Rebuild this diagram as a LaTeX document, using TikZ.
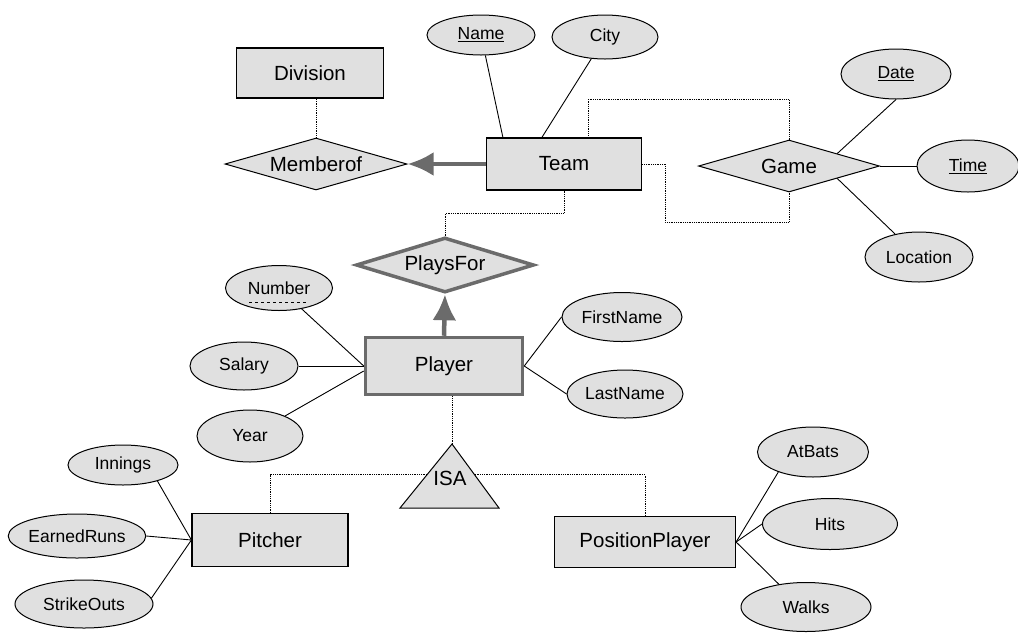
\documentclass[tikz,border=0pt]{standalone}
\usepackage{fontspec}
\setmainfont{Liberation Sans}
\usetikzlibrary{arrows.meta, shapes.geometric, calc}
\definecolor{erfill}{gray}{0.88}
\definecolor{weak}{gray}{0.42}

\begin{document}
\begin{tikzpicture}[x=1pt, y=-1pt,
    every node/.style={font=\fontsize{20.5}{24}\selectfont},
    entity/.style={draw, fill=erfill, rectangle, inner sep=0pt, line width=1.2pt},
    weakentity/.style={entity, draw=weak, line width=3.5pt},
    attr/.style={draw, fill=erfill, ellipse, inner sep=0pt, line width=1pt,
      font=\fontsize{17.5}{21}\selectfont},
    rel/.style={draw, fill=erfill, diamond, aspect=3.5, inner sep=0pt, line width=1pt},
    weakrel/.style={rel, draw=weak, line width=3.5pt},
    link/.style={densely dotted, line width=0.8pt},
    attrlink/.style={line width=0.9pt},
    heavy/.style={draw=weak, line width=4.5pt, -{Latex[length=26pt,width=24pt]}}]
      \useasboundingbox (0,0) rectangle (1018,633);

      % Draw the entities
      \node[entity, minimum width=147, minimum height=50] (division) at (310,73) {Division};
      \node[entity, minimum width=155, minimum height=52] (team) at (564,164) {Team};
      \node[weakentity, minimum width=157, minimum height=57] (player) at (444,366) {Player};
      \node[entity, minimum width=156, minimum height=53] (pitcher) at (270,540) {Pitcher};
      \node[entity, minimum width=181, minimum height=51] (positionplayer) at (645,542) {PositionPlayer};

      % Draw the relationships
      \node[rel, minimum width=182, minimum height=52] (memberof) at (316,164) {Memberof};
      \node[rel, minimum width=181, minimum height=52] (game) at (789,166) {Game};
      \node[weakrel, minimum width=178, minimum height=55] (playsfor) at (445,265) {PlaysFor};

      % Draw the attributes
      \node[attr, minimum width=108, minimum height=40] (name) at (481,35) {\underline{Name}};
      \node[attr, minimum width=106, minimum height=44] (city) at (605,37) {City};
      \node[attr, minimum width=110, minimum height=50] (date) at (896,74) {\underline{Date}};
      \node[attr, minimum width=102, minimum height=52] (time) at (968,166) {\underline{Time}};
      \node[attr, minimum width=108, minimum height=50] (location) at (919,257) {Location};
      \node[attr, minimum width=107, minimum height=45] (number) at (279,288) {Number};
      \node[attr, minimum width=108, minimum height=48] (salary) at (244,366) {Salary};
      \node[attr, minimum width=106, minimum height=52] (year) at (250,436) {Year};
      \node[attr, minimum width=120, minimum height=49] (firstname) at (622,317) {FirstName};
      \node[attr, minimum width=116, minimum height=48] (lastname) at (625,394) {LastName};
      \node[attr, minimum width=110, minimum height=40] (innings) at (123,465) {Innings};
      \node[attr, minimum width=137, minimum height=44] (earnedruns) at (77,536) {EarnedRuns};
      \node[attr, minimum width=138, minimum height=48] (strikeouts) at (84,604) {StrikeOuts};
      \node[attr, minimum width=111, minimum height=50] (atbats) at (813,452) {AtBats};
      \node[attr, minimum width=135, minimum height=51] (hits) at (830,524) {Hits};
      \node[attr, minimum width=130, minimum height=49] (walks) at (806,607) {Walks};

      % Dashed underline of the partial key
      \draw[dashed, line width=0.9pt] ([xshift=-30pt,yshift=-14pt]number.center) -- ([xshift=28pt,yshift=-14pt]number.center);

      % Draw the ISA triangle
      \coordinate (isatop) at (452,444);
      \coordinate (isaleft) at (400,508);
      \coordinate (isaright) at (499,508);
      \draw[fill=erfill, line width=1pt] (isatop) -- (isaleft) -- (isaright) -- cycle;
      \node (isa) at (450,478) {ISA};

      % Draw the relationship links
      \draw[link] (memberof.north) -- (memberof.north |- division.south);
      \draw[link] ([xshift=24pt]team.north) -- ++(0,-38) -| (game.north);
      \draw[link] (team.east) -- ++(23,0) -- ++(0,58) -| (game.south);
      \draw[link] (team.south) -- ++(0,23) -| (playsfor.north);
      \draw[heavy] (team.west) -- (memberof.east);
      \draw[heavy] (player.north) -- (playsfor.south);

      % Draw the ISA links
      \draw[link] (isatop) -- (isatop |- player.south);
      \draw[link] (pitcher.north) |- ($(isatop)!.48!(isaleft)$);
      \draw[link] (positionplayer.north) |- ($(isatop)!.48!(isaright)$);

      % Draw the attribute links
      \draw[attrlink] (name) -- ([xshift=17pt]team.north west);
      \draw[attrlink] (city) -- ([xshift=56pt]team.north west);
      \draw[attrlink] ($(game.north)!.53!(game.east)$) -- (date.south);
      \draw[attrlink] (game.east) -- (time.west);
      \draw[attrlink] ($(game.south)!.53!(game.east)$) -- (location);
      \draw[attrlink] (number) -- (player.west);
      \draw[attrlink] (salary) -- (player.west);
      \draw[attrlink] (year) -- ([yshift=-5pt]player.west);
      \draw[attrlink] (player.east) -- (firstname.west);
      \draw[attrlink] (player.east) -- (lastname.west);
      \draw[attrlink] (innings.-25) -- (pitcher.west);
      \draw[attrlink] (earnedruns.east) -- (pitcher.west);
      \draw[attrlink] (strikeouts.5) -- (pitcher.west);
      \draw[attrlink] (positionplayer.east) -- (atbats.-150);
      \draw[attrlink] (positionplayer.east) -- (hits.west);
      \draw[attrlink] (positionplayer.east) -- (walks.140);

    \end{tikzpicture}
\end{document}
